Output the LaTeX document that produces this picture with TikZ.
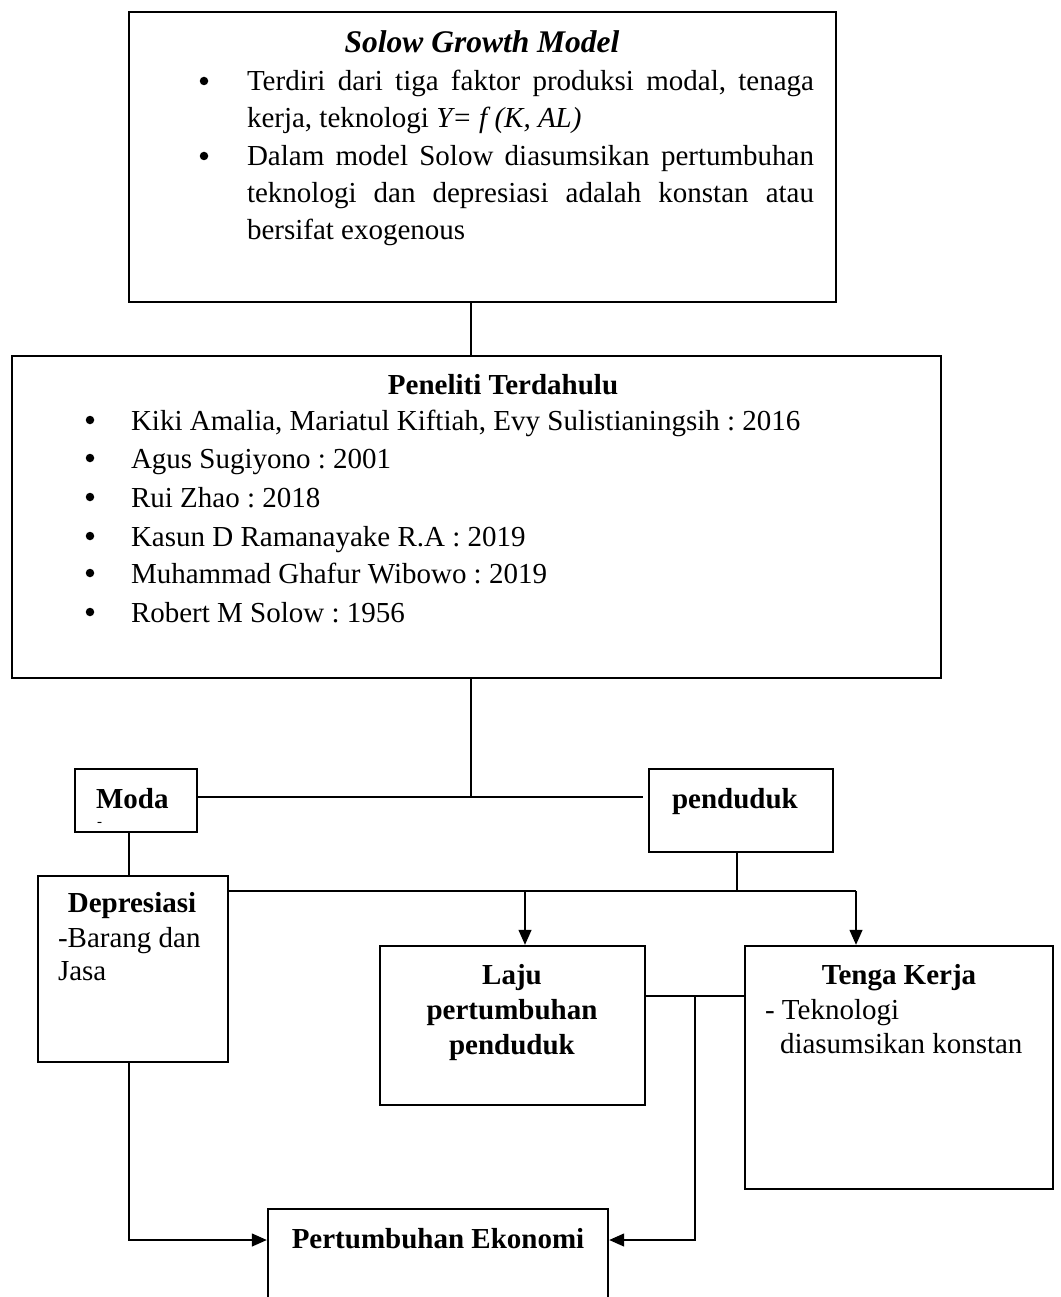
\documentclass[tikz,border=0pt]{standalone}
\usepackage{fontspec}
\setmainfont{Liberation Serif}
\usetikzlibrary{arrows.meta}
\newcommand{\myBody}{\fontsize{29}{37}\selectfont\hyphenpenalty=10000\frenchspacing }
\newcommand{\mySmall}{\fontsize{15}{18}\selectfont}
\newcommand{\myTitle}{\fontsize{31.5}{38}\selectfont}
\tikzset{
  box/.style={draw=black, line width=2.4pt, inner sep=0pt, fill=none},
  thinbox/.style={draw=black, line width=1.2pt, inner sep=0pt},
  txt/.style={inner sep=0pt, outer sep=0pt, font=\myBody},
  dot/.style={circle, fill=black, inner sep=0pt, minimum size=8.5pt},
  conn/.style={line width=1.3pt, draw=black},
  arr/.style={conn, -{Triangle[length=15pt,width=13pt]}},
}
\begin{document}
\begin{tikzpicture}[x=1pt,y=-1pt]
\useasboundingbox (0,0) rectangle (1060,1297);
% boxes
\node[box, minimum width=707pt, minimum height=290pt] (top) at (482.5,157) {};
\node[box, minimum width=929pt, minimum height=322pt] (mid) at (476.5,517) {};
\node[box, minimum width=122pt, minimum height=63pt] (moda) at (136,800.5) {};
\node[box, minimum width=184pt, minimum height=83pt] (pend) at (741,810.5) {};
\node[thinbox, minimum width=190pt, minimum height=186pt] (dep) at (133,969) {};
\node[box, minimum width=265pt, minimum height=159pt] (laju) at (512.5,1025.5) {};
\node[box, minimum width=308pt, minimum height=243pt] (tenga) at (899,1067.5) {};
\node[box, minimum width=340pt, minimum height=111pt] (pe) at (438,1264.5) {};

% top box text
\node[txt, anchor=base, font=\myTitle\bfseries\itshape] (ttl1) at (482,53) {Solow Growth Model};
\node[dot] (tb1) at (204,81) {};
\node[txt, anchor=base west, text width=567pt, align=justify] (tp1) at (247,91)
  {Terdiri dari tiga faktor produksi modal, tenaga kerja, teknologi \textit{Y= f (K, AL)}};
\node[dot] (tb2) at (204,156) {};
\node[txt, anchor=base west, text width=567pt, align=justify] (tp2) at (247,166)
  {Dalam model Solow diasumsikan pertumbuhan teknologi dan depresiasi adalah konstan atau bersifat exogenous};

% middle box text
\node[txt, anchor=base, font=\myBody\bfseries] (ttl2) at (503,394) {Peneliti Terdahulu};
\foreach \i/\t [count=\k] in {430/{Kiki Amalia, Mariatul Kiftiah, Evy Sulistianingsih : 2016},
  468/{Agus Sugiyono : 2001}, 507/{Rui Zhao : 2018}, 546/{Kasun D Ramanayake R.A : 2019},
  583/{Muhammad Ghafur Wibowo : 2019}, 622/{Robert M Solow : 1956}}{
  \node[dot] (mb\k) at (90,\i-10) {};
  \node[txt, anchor=base west] (ml\k) at (131,\i) {\t};
}

% small boxes text
\node[txt, anchor=base west, font=\myBody\bfseries] (modat) at (96,808) {Moda};
\node[txt, anchor=base west, font=\mySmall] (modad) at (97,826) {-};
\node[txt, anchor=base west, font=\myBody\bfseries] (pendt) at (672,808) {penduduk};
\node[txt, anchor=base, font=\myBody\bfseries] (dept) at (132,912) {Depresiasi};
\node[txt, anchor=base west] (dep1) at (58,947) {-Barang dan};
\node[txt, anchor=base west] (dep2) at (58,980) {Jasa};
\node[txt, anchor=base, font=\myBody\bfseries] (laju1) at (512,984) {Laju};
\node[txt, anchor=base, font=\myBody\bfseries] (laju2) at (512,1019) {pertumbuhan};
\node[txt, anchor=base, font=\myBody\bfseries] (laju3) at (512,1054) {penduduk};
\node[txt, anchor=base, font=\myBody\bfseries] (tengat) at (899,984) {Tenga Kerja};
\node[txt, anchor=base west] (tenga1) at (765,1019) {- Teknologi};
\node[txt, anchor=base west] (tenga2) at (780,1053) {diasumsikan konstan};
\node[txt, anchor=base, font=\myBody\bfseries] (pet) at (438,1248) {Pertumbuhan Ekonomi};

% junction coordinates
\coordinate (j1) at (471,797);
\coordinate (cx) at (129,797);
\coordinate (j3) at (737,891);
\coordinate (a1) at (525,891);
\coordinate (a2) at (856,891);
\coordinate (j4) at (695,996);
\coordinate (j5) at (695,1240);
\coordinate (j6) at (129,1240);

% connectors
\draw[conn] (j1 |- top.south) -- (j1 |- mid.north);
\draw[conn] (j1 |- mid.south) -- (j1);
\draw[conn] (moda.east |- j1) -- ([xshift=-5pt]pend.west |- j1);
\draw[conn] (cx |- moda.south) -- (cx |- dep.north);
\draw[conn] (j3 |- pend.south) -- (j3);
\draw[conn] (dep.east |- j3) -- (a2);
\draw[arr] (a1) -- (a1 |- laju.north);
\draw[arr] (a2) -- (a2 |- tenga.north);
\draw[conn] (laju.east |- j4) -- (tenga.west |- j4);
\draw[arr] (j4) -- (j5) -- (pe.east |- j5);
\draw[arr] (j6 |- dep.south) -- (j6) -- (pe.west |- j6);
\end{tikzpicture}
\end{document}
